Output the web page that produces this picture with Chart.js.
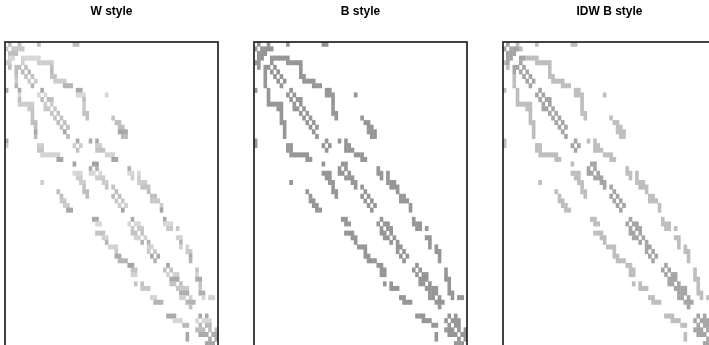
<!DOCTYPE html>
<html><head><meta charset="utf-8">
<script src="https://cdn.jsdelivr.net/npm/chart.js@4"></script>
<style>
html,body{margin:0;padding:0;background:#fff;width:709px;height:345px;overflow:hidden}
#wrap{position:relative;width:709px;height:345px;overflow:hidden}
canvas{position:absolute;top:0}
</style></head><body><div id="wrap">
<canvas id="c0" width="223" height="360" style="left:0"></canvas>
<canvas id="c1" width="223" height="360" style="left:249px"></canvas>
<canvas id="c2" width="223" height="360" style="left:498px"></canvas>
</div>
<script>
const panelTitles = ["W style","B style","IDW B style"];
const size = 66;
const neighbours = [
[1,4,10,21,22],[0,2,3,4,5],[1,2,3],[1,2,5,6,7,8,9,10],[0,1,5,10,11,12,13,14],
[1,3,4,6,14],[3,5,7,14],[3,6,8,14,15],[3,7,9,15,16,17,18],[3,8,18,19,20],
[0,4,11,22,23],[4,10,12,22,23,24,31],[4,11,13,14,24],[4,5,6,7,8,12,14,24],[7,8,12,13,15,24],
[8,14,16,24,25],[8,15,17,25,33],[8,9,16,18,34,35],[9,17,19,35,36],[9,18,35,36,37],
[9,19,36,37],[0,22,26,28],[0,10,11,21,23,28,29],[10,11,22,28,29,30],[11,12,13,14,15,16,31,32,33],
[16,17,33,34],[21,27,28],[26,28,38],[21,22,23,26,27,29,38,39,41],[22,23,28,29,30,39,41],
[11,23,24,30,31,41,42,43],[24,31,33,42,43,44],[16,24,25,34,44],[17,25,33,35,45,46],[17,18,34,36,45,46,47],
[18,19,35,37,48],[19,20,36,48],[],[27,28,39,49],[28,29,38,40,41,49,50,51],
[39,41,42,50,51,53],[28,29,30,39,40,42],[30,31,40,41,43,53,54],[31,42,44,54],[32,33,34,44,45,54,56],
[34,44,46,56,57],[34,35,45,47,57],[35,36,37,46,57],[38,39,50],[39,40,49,51,59],
[39,40,50,52,53,59],[51,52,53,59,60],[40,42,51,52,54,60],[42,43,44,53,54,55,56,60],[54,55,56,60,61],
[45,46,54,55,57,61,63,64],[46,47,48,56,57,58],[57],[],[50,51,52,60,62],
[52,53,54,59,61,62,63],[55,56,60,62,63],[59,60,61,63,65],[56,60,61,62,64,65],[56,63,65],[62,63,64]
];
const wGrey = [190,200,190,215,205,190,185,195,205,180,170,215,190,205,200,195,195,190,190,165,185,170,205,195,210,165,160,175,215,205,205,195,190,190,200,205,165,190,170,215,200,195,210,180,210,200,170,180,165,195,210,170,195,200,175,210,180,195,165,170,215,185,190,170,170,165];
const bGrey = 150;
const idwFarGrey = 190;
const idwNearGrey = 165;
const columnLabels = neighbours.map((_, i) => String(i));
const cells = [];
neighbours.forEach((cols, r) => cols.forEach(c => cells.push({x:String(c), y:[r-0.5, r+0.5], r, c})));
const grey = g => `rgb(${g},${g},${g})`;
const shaders = [
  d => grey(wGrey[d.r]),
  d => grey(bGrey),
  d => grey(Math.abs(d.r-d.c) <= 3 || (d.r > 58 && d.c > 58) ? idwNearGrey : idwFarGrey)
];
const frame = {id:'frame', afterDraw(ch){
  const a = ch.chartArea, x = ch.ctx;
  x.save(); x.strokeStyle='#222'; x.lineWidth=1.7;
  x.strokeRect(a.left, a.top, a.right-a.left, a.bottom-a.top); x.restore();
}};
panelTitles.forEach((t,i)=>{
  new Chart(document.getElementById('c'+i),{
    type:'bar',
    data:{labels:columnLabels, datasets:[{
      data:cells,
      backgroundColor:ctx=>ctx.raw?shaders[i](ctx.raw):'#999',
      barPercentage:1, categoryPercentage:1, borderWidth:0, inflateAmount:0.2
    }]},
    plugins:[frame],
    options:{
      responsive:false, animation:false, events:[],
      layout:{padding:{left:5,right:5,top:0,bottom:14}},
      plugins:{legend:{display:false},tooltip:{enabled:false},
        title:{display:true,text:t,color:'#000',font:{family:'"Liberation Sans",Arial,sans-serif',size:12,weight:'bold'},padding:{top:4,bottom:23.6}}},
      scales:{
        x:{type:'category',display:false,offset:true},
        y:{type:'linear',display:false,reverse:true,min:-0.5,max:size-0.5}
      }
    }
  });
});
</script></body></html>
